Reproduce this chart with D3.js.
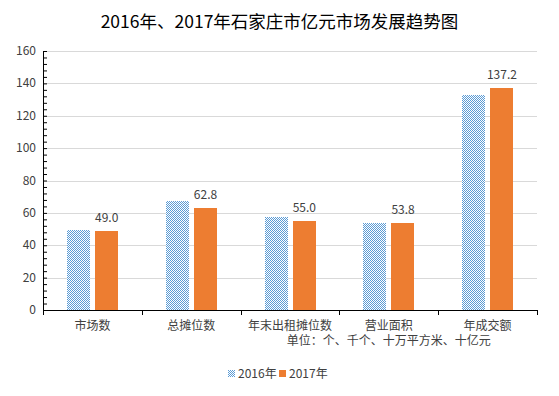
<!DOCTYPE html>
<html>
<head>
<meta charset="utf-8">
<script src="https://cdn.jsdelivr.net/npm/d3@7"></script>
<style>
    body { margin: 0; background: #fff; }
    text { font-family: "Noto Sans CJK SC", "Noto Sans", sans-serif; fill: #404040; }
</style>
</head>
<body>
<svg id="chart" width="559" height="396"></svg>
<script>
/* ------------------------- DATI ------------------------- */

const categories = ["市场数", "总摊位数", "年末出租摊位数", "营业面积", "年成交额"]
const subLabels = ["", "", "", "单位：个、千个、十万平方米、十亿元", ""]
const series = ["2016年", "2017年"]
const values2016 = [49.5, 67.3, 57.3, 53.6, 132.8]
const values2017 = [49.0, 62.8, 55.0, 53.8, 137.2]
const yTicks = [0, 20, 40, 60, 80, 100, 120, 140, 160]

const blue = "#5b9bd5"
const orange = "#ed7d31"

/* ------------------------- SETUP ------------------------- */

const svg = d3.select("#chart")
const margin = { left: 43, right: 22, top: 51, bottom: 86 }
const width = +svg.attr("width")
const height = +svg.attr("height")

// pattern a scacchiera per il 2016 (tile 8x8 per evitare sfocature)
const tile = 8
const defs = svg.append("defs")
const pat = defs.append("pattern")
    .attr("id", "checker")
    .attr("width", tile).attr("height", tile)
    .attr("patternUnits", "userSpaceOnUse")
pat.append("rect").attr("width", tile).attr("height", tile).attr("fill", "#fff")
pat.selectAll("rect.c")
    .data(d3.cross(d3.range(tile), d3.range(tile)).filter(p => (p[0] + p[1]) % 2 == 0))
    .enter().append("rect")
        .attr("class", "c")
        .attr("x", p => p[0]).attr("y", p => p[1])
        .attr("width", 1).attr("height", 1)
        .attr("shape-rendering", "crispEdges")
        .attr("fill", blue)

const x = d3.scaleBand()
    .domain(categories)
    .range([margin.left, width - margin.right])

const x1 = d3.scaleBand()
    .domain(series)
    .range([0, x.bandwidth()])
    .paddingInner(0.207)
    .paddingOuter(0.83)

const y = d3.scaleLinear()
    .domain([0, 160])
    .range([height - margin.bottom, margin.top])

/* ------------------------- TITOLO ------------------------- */

svg.append("text")
    .attr("x", width / 2).attr("y", 28)
    .attr("text-anchor", "middle")
    .style("font-size", "17.5px")
    .style("fill", "#000")
    .text("2016年、2017年石家庄市亿元市场发展趋势图")

/* ------------------------- GRIGLIA ------------------------- */

svg.append("g")
    .selectAll("line")
    .data(yTicks.slice(1))
    .enter().append("line")
        .attr("x1", margin.left).attr("x2", width - margin.right)
        .attr("y1", d => Math.round(y(d)) + 0.5).attr("y2", d => Math.round(y(d)) + 0.5)
        .attr("stroke", "#d9d9d9")

/* ------------------------- BARRE ------------------------- */

const rows = categories.map((c, i) => ({ cat: c, vals: [values2016[i], values2017[i]] }))

const barsX = d => Math.round(x(d.cat))

svg.append("g")
    .attr("shape-rendering", "crispEdges")
    .selectAll("rect")
    .data(rows.flatMap(r => r.vals.map((v, j) => ({ cat: r.cat, s: series[j], v: v }))))
    .enter().append("rect")
        .attr("x", d => barsX(d) + Math.round(x1(d.s)))
        .attr("y", d => Math.round(y(d.v)))
        .attr("width", Math.round(x1.bandwidth()))
        .attr("height", d => Math.round(y(0)) - Math.round(y(d.v)))
        .attr("fill", d => d.s == "2016年" ? "url(#checker)" : orange)

// etichette solo per il 2017
svg.append("g")
    .selectAll("text")
    .data(rows)
    .enter().append("text")
        .attr("x", d => x(d.cat) + x1("2017年") + x1.bandwidth() / 2)
        .attr("y", d => y(d.vals[1]) - 9)
        .attr("text-anchor", "middle")
        .style("font-size", "12px")
        .text(d => d.vals[1].toFixed(1))

/* ------------------------- ASSI ------------------------- */

const yAxis = svg.append("g")
    .attr("transform", "translate(" + margin.left + ",0)")
    .call(d3.axisRight(y).tickValues(d3.range(0, 161, 4)).tickSize(4).tickFormat(""))
yAxis.select(".domain").remove()
yAxis.selectAll("line").attr("stroke", "#000")
yAxis.append("line")
    .attr("x1", 0.5).attr("x2", 0.5)
    .attr("y1", y(160)).attr("y2", y(0))
    .attr("stroke", "#000")

svg.append("g")
    .selectAll("text")
    .data(yTicks)
    .enter().append("text")
        .attr("x", 36).attr("y", d => y(d) + 4)
        .attr("text-anchor", "end")
        .style("font-size", "12px")
        .text(d => d)

const xAxis = svg.append("g")
xAxis.append("line")
    .attr("x1", margin.left).attr("x2", width - margin.right)
    .attr("y1", Math.round(y(0)) + 0.5).attr("y2", Math.round(y(0)) + 0.5)
    .attr("stroke", "#000")
xAxis.selectAll("line.tick")
    .data(categories.map(c => x(c)).concat([x(categories[categories.length - 1]) + x.bandwidth()]))
    .enter().append("line")
        .attr("class", "tick")
        .attr("x1", d => Math.round(d) + 0.5).attr("x2", d => Math.round(d) + 0.5)
        .attr("y1", y(0)).attr("y2", y(0) + 5)
        .attr("stroke", "#000")

xAxis.selectAll("text.cat")
    .data(categories)
    .enter().append("text")
        .attr("class", "cat")
        .attr("text-anchor", "middle")
        .attr("x", d => x(d) + x.bandwidth() / 2)
        .attr("y", y(0) + 20)
        .style("font-size", "12px")
        .text(d => d)

xAxis.selectAll("text.sub")
    .data(categories)
    .enter().append("text")
        .attr("class", "sub")
        .attr("text-anchor", "middle")
        .attr("x", d => x(d) + x.bandwidth() / 2)
        .attr("y", y(0) + 35)
        .style("font-size", "12px")
        .text((d, i) => subLabels[i])

/* ------------------------- LEGENDA ------------------------- */

const legend = svg.append("g").attr("transform", "translate(228,370)")
const legendItems = [
    { name: series[0], fill: "url(#checker)", dx: 0 },
    { name: series[1], fill: orange, dx: 51 }
]
const li = legend.selectAll("g")
    .data(legendItems)
    .enter().append("g")
        .attr("transform", d => "translate(" + d.dx + ",0)")
li.append("rect").attr("width", 7).attr("height", 7).attr("fill", d => d.fill)
li.append("text").attr("x", 10).attr("y", 7.5).style("font-size", "12px").text(d => d.name)
</script>
</body>
</html>
